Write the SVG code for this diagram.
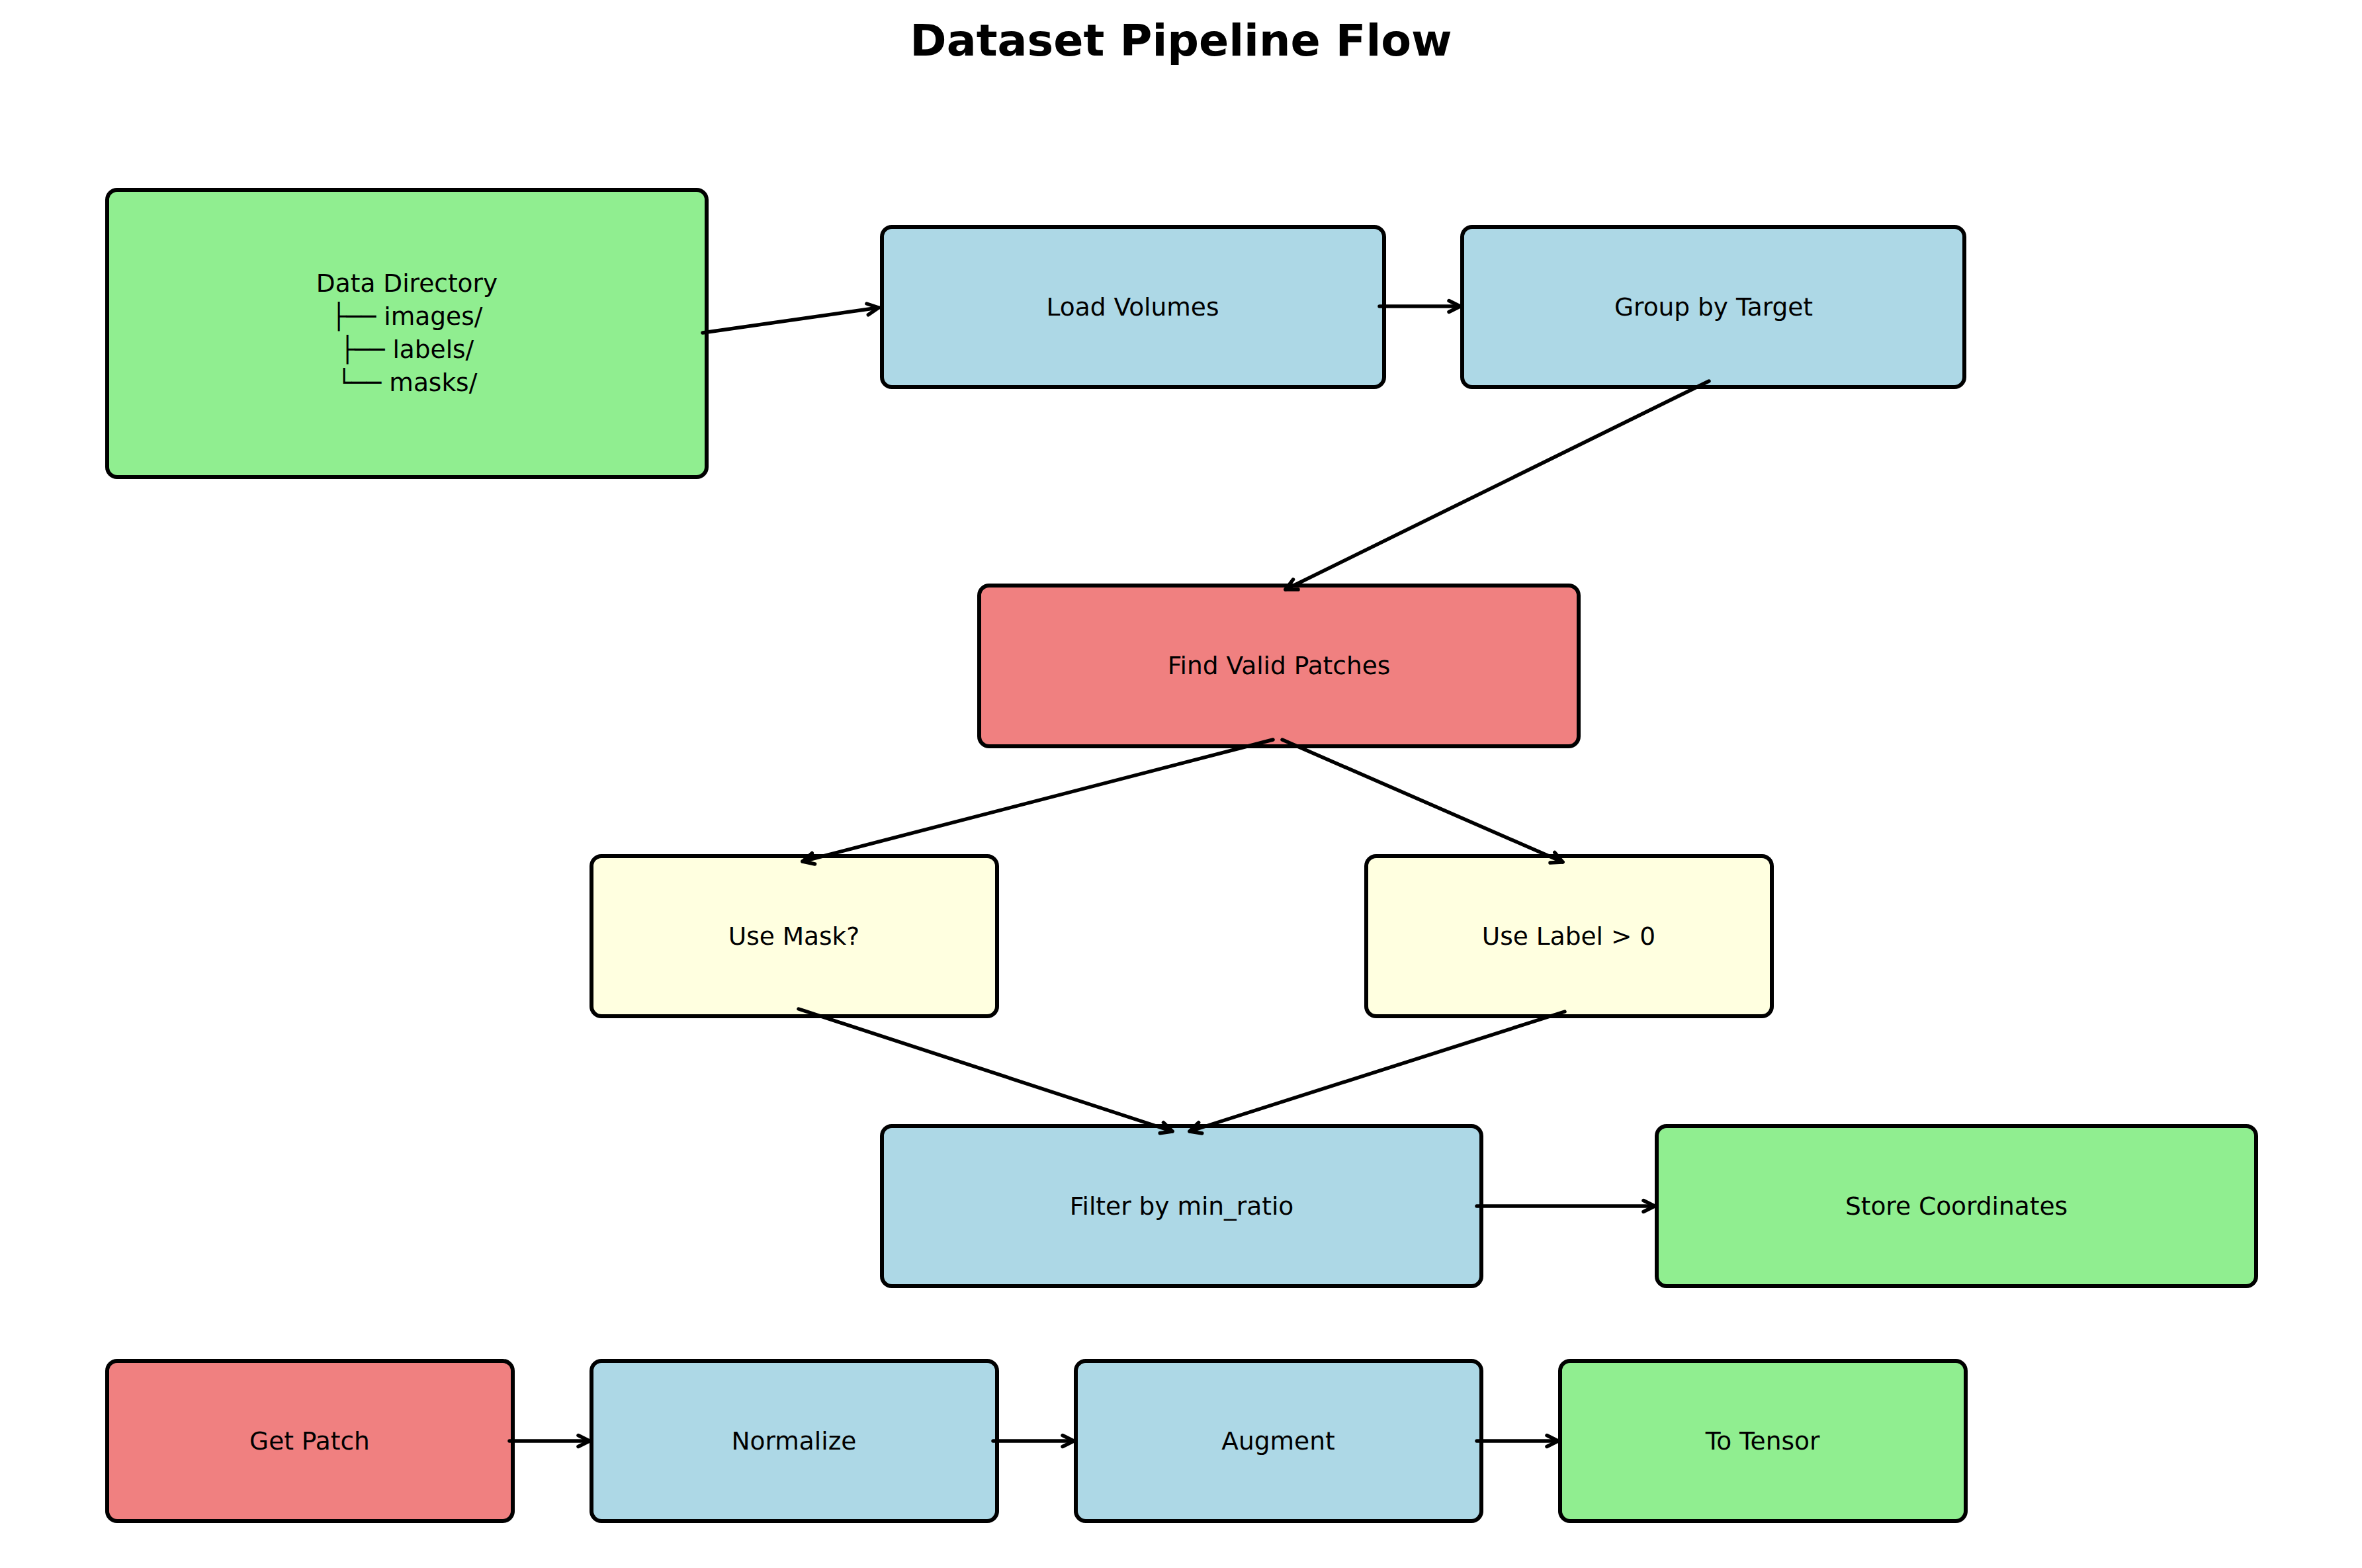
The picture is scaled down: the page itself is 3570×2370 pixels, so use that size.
<svg xmlns="http://www.w3.org/2000/svg" width="3570" height="2370" viewBox="0 0 3570 2370">
<style>
.box{stroke:#000;stroke-width:6;}
.g{fill:#90EE90;}
.b{fill:#ADD8E6;}
.r{fill:#F08080;}
.y{fill:#FFFFE0;}
.t{font-family:"DejaVu Sans","Liberation Sans",sans-serif;font-size:37.5px;fill:#000;text-anchor:middle;}
.title{font-family:"DejaVu Sans","Liberation Sans",sans-serif;font-size:66.7px;font-weight:bold;fill:#000;text-anchor:middle;}
.c line{stroke:#000;stroke-width:5.5;stroke-linecap:round;fill:none;marker-end:url(#ah);}
</style>
<defs>
<marker id="ah" markerUnits="userSpaceOnUse" orient="auto" refX="0" refY="0" markerWidth="40" markerHeight="40" viewBox="-25 -20 40 40" overflow="visible">
<path d="M-17,-8.5 L0,0 L-17,8.5" fill="none" stroke="#000" stroke-width="5.5" stroke-linecap="round" stroke-linejoin="round"/>
</marker>
</defs>
<rect x="0" y="0" width="3570" height="2370" fill="#fff"/>
<text class="title" x="1785" y="84">Dataset Pipeline Flow</text>

<g id="data_directory">
<rect class="box g" x="162" y="287" width="906" height="434" rx="15" ry="15"/>
<text class="t" x="615" y="441">Data Directory</text>
<text class="t" x="615" y="491">├── images/</text>
<text class="t" x="615" y="541">├── labels/</text>
<text class="t" x="615" y="591">└── masks/</text>
</g>
<g id="load_volumes">
<rect class="box b" x="1333" y="343" width="759" height="242" rx="15" ry="15"/>
<text class="t" x="1712" y="477">Load Volumes</text>
</g>
<g id="group_by_target">
<rect class="box b" x="2210" y="343" width="759" height="242" rx="15" ry="15"/>
<text class="t" x="2590" y="477">Group by Target</text>
</g>
<g id="find_valid_patches">
<rect class="box r" x="1480" y="885" width="906" height="243" rx="15" ry="15"/>
<text class="t" x="1933" y="1019">Find Valid Patches</text>
</g>
<g id="use_mask">
<rect class="box y" x="894" y="1294" width="613" height="242" rx="15" ry="15"/>
<text class="t" x="1200" y="1428">Use Mask?</text>
</g>
<g id="use_label">
<rect class="box y" x="2065" y="1294" width="613" height="242" rx="15" ry="15"/>
<text class="t" x="2371" y="1428">Use Label &gt; 0</text>
</g>
<g id="filter_min_ratio">
<rect class="box b" x="1333" y="1702" width="906" height="242" rx="15" ry="15"/>
<text class="t" x="1786" y="1836">Filter by min_ratio</text>
</g>
<g id="store_coordinates">
<rect class="box g" x="2504" y="1702" width="906" height="242" rx="15" ry="15"/>
<text class="t" x="2957" y="1836">Store Coordinates</text>
</g>
<g id="get_patch">
<rect class="box r" x="162" y="2057" width="613" height="242" rx="15" ry="15"/>
<text class="t" x="468" y="2191">Get Patch</text>
</g>
<g id="normalize">
<rect class="box b" x="894" y="2057" width="613" height="242" rx="15" ry="15"/>
<text class="t" x="1200" y="2191">Normalize</text>
</g>
<g id="augment">
<rect class="box b" x="1626" y="2057" width="613" height="242" rx="15" ry="15"/>
<text class="t" x="1932" y="2191">Augment</text>
</g>
<g id="to_tensor">
<rect class="box g" x="2358" y="2057" width="613" height="242" rx="15" ry="15"/>
<text class="t" x="2664" y="2191">To Tensor</text>
</g>

<g id="connectors" class="c">
<line x1="1062" y1="503" x2="1328" y2="465"/>
<line x1="2085" y1="463" x2="2207" y2="463"/>
<line x1="2583" y1="576" x2="1943" y2="891"/>
<line x1="1924" y1="1118" x2="1213" y2="1302"/>
<line x1="1938" y1="1118" x2="2362" y2="1303"/>
<line x1="1207" y1="1525" x2="1772" y2="1710"/>
<line x1="2365" y1="1529" x2="1798" y2="1710"/>
<line x1="2232" y1="1823" x2="2501" y2="1823"/>
<line x1="770" y1="2178" x2="891" y2="2178"/>
<line x1="1501" y1="2178" x2="1623" y2="2178"/>
<line x1="2232" y1="2178" x2="2355" y2="2178"/>
</g>
</svg>
